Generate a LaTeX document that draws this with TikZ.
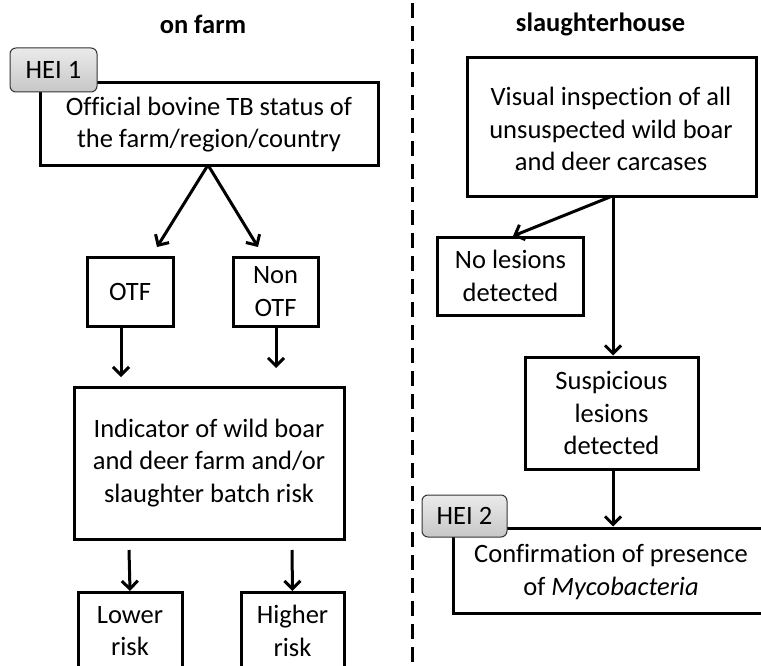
\documentclass[tikz,border=0pt]{standalone}
\usepackage{fontspec}
\setmainfont{Carlito}[Ligatures=NoCommon]
\usetikzlibrary{arrows.meta}
\begin{document}
\begin{tikzpicture}[x=1pt,y=-1pt,
  box/.style={draw=black, line width=3pt, fill=white, inner sep=0pt},
  txt/.style={align=center, font=\fontsize{26.5}{32.5}\selectfont, inner sep=0pt},
  hei/.style={draw=black!80, line width=1pt, rounded corners=6pt, top color=black!8, bottom color=black!22, font=\fontsize{26.5}{30}\selectfont, inner sep=0pt},
  title/.style={font=\fontsize{26.5}{30}\selectfont\bfseries, inner sep=0pt},
  arr/.style={line width=3pt, -{Straight Barb[length=8pt,width=16pt,line width=3pt]}}]
\useasboundingbox (0,0) rectangle (761,666);
\clip (0,0) rectangle (761,666);
% titles
\node[title] (tfarm) at (203,24) {on farm};
\node[title] (tslaughter) at (600.5,24) {slaughterhouse};
% divider
\coordinate (dtop) at (412,3);
\coordinate (dbot) at (412,670);
\draw[line width=3pt, dash pattern=on 15pt off 8pt] (dtop) -- (dbot);
% left
\node[box, minimum width=338, minimum height=83] (status) at (209,124.5) {};
\node[txt] (statust) at (209,124.5) {Official bovine TB status of\\the farm/region/country};
\node[hei, minimum width=87, minimum height=44] (hei1) at (53.5,70) {HEI 1};
\node[box, minimum width=86, minimum height=69, txt] (otf) at (130,291.5) {OTF};
\node[box, minimum width=85, minimum height=69, txt] (notf) at (275.5,291.5) {Non\\OTF};
\node[box, minimum width=270, minimum height=152, txt] (ind) at (209,463) {Indicator of wild boar\\and deer farm and/or\\slaughter batch risk};
\node[box, minimum width=104, minimum height=100, anchor=north] (lower) at (130,591) {};
\node[txt] (lowert) at (130,631) {Lower\\risk};
\node[box, minimum width=103, minimum height=100, anchor=north] (higher) at (292.5,591) {};
\node[txt] (highert) at (292.5,631) {Higher\\risk};
\coordinate (s1) at (208,165);
\coordinate (e1) at (157,247);
\coordinate (e2) at (258,247);
\coordinate (o1) at (121,327);
\coordinate (o1e) at (121,377);
\coordinate (o2) at (276,327);
\coordinate (o2e) at (276,368);
\coordinate (i1) at (129,550);
\coordinate (i2) at (292,550);
\draw[arr] (s1) -- (e1);
\draw[arr] (s1) -- (e2);
\draw[arr] (o1) -- (o1e);
\draw[arr] (o2) -- (o2e);
\draw[arr] (i1) -- (lower.north);
\draw[arr] (i2) -- (higher.north);
% right
\node[box, minimum width=289, minimum height=139] (visual) at (611.5,127.5) {};
\node[txt] (visualt) at (611,129) {Visual inspection of all\\unsuspected wild boar\\and deer carcases};
\node[box, minimum width=146, minimum height=78, txt] (nolesion) at (510.5,276) {No lesions\\detected};
\node[box, minimum width=173, minimum height=112, txt] (susp) at (611.5,413) {Suspicious\\lesions\\detected};
\node[box, minimum width=316, minimum height=85] (conf) at (611,570.5) {};
\node[txt] (conft) at (611,572) {Confirmation of presence\\of \textit{Mycobacteria}};
\node[hei, minimum width=85, minimum height=42] (hei2) at (464.5,516) {HEI 2};
\coordinate (v1) at (610,197);
\coordinate (v1e) at (513,236);
\coordinate (v2) at (613,197);
\draw[arr] (v1) -- (v1e);
\draw[arr] (v2) -- (susp.north -| v2);
\draw[arr] (susp.south -| v2) -- (conf.north -| v2);
\end{tikzpicture}
\end{document}
